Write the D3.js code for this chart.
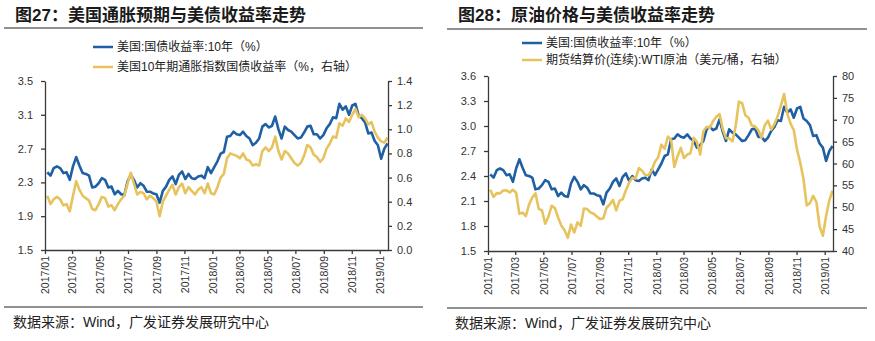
<!DOCTYPE html>
<html><head><meta charset="utf-8">
<script src="https://cdn.jsdelivr.net/npm/d3@7"></script>
<style>
body{margin:0;background:#fff;}
svg{display:block;}
text{font-family:"Liberation Sans","Noto Sans CJK SC",Arial,sans-serif;}
</style></head>
<body>
<svg id="c" width="875" height="341"></svg>
<script>
// ---- Data (weekly, Fridays from 2017-01-06 to 2019-01-18) ----
const startDate = "2017-01-06";
const endDate = "2019-01-19";
// US 10Y Treasury yield (%)
const ust10y = [
 2.42,2.38,2.47,2.49,2.47,2.41,2.42,2.33,2.49,2.60,2.50,2.41,2.40,2.38,2.24,2.25,2.29,2.35,2.33,2.24,2.25,2.16,2.20,2.16,2.15,2.31,
 2.39,2.33,2.24,2.29,2.26,2.19,2.19,2.17,2.16,2.06,2.20,2.25,2.33,2.37,2.28,2.39,2.43,2.34,2.40,2.35,2.34,2.37,2.38,2.35,2.48,2.41,
 2.48,2.55,2.64,2.66,2.84,2.85,2.90,2.87,2.86,2.90,2.85,2.82,2.74,2.77,2.82,2.96,2.99,2.95,2.97,3.08,2.93,2.82,2.96,2.92,2.90,2.86,
 2.82,2.83,2.89,2.96,2.97,2.87,2.87,2.82,2.86,2.94,2.99,3.07,3.06,3.23,3.16,3.20,3.10,3.21,3.23,3.09,3.06,3.01,2.88,2.89,2.79,2.74,
 2.58,2.70,2.76
];
// US 10Y TIPS yield (%, right axis of chart 27)
const tips10y = [
 0.45,0.38,0.42,0.44,0.42,0.37,0.38,0.32,0.45,0.57,0.50,0.45,0.43,0.41,0.34,0.33,0.38,0.44,0.43,0.36,0.37,0.33,0.38,0.42,0.45,0.55,
 0.64,0.55,0.46,0.48,0.47,0.42,0.45,0.43,0.40,0.28,0.40,0.45,0.50,0.54,0.46,0.52,0.55,0.47,0.52,0.49,0.46,0.50,0.52,0.47,0.55,0.47,
 0.46,0.52,0.60,0.63,0.76,0.80,0.79,0.78,0.76,0.80,0.75,0.74,0.70,0.71,0.70,0.82,0.85,0.82,0.85,0.94,0.82,0.75,0.82,0.80,0.76,0.72,
 0.70,0.72,0.78,0.87,0.85,0.79,0.77,0.73,0.76,0.84,0.88,0.94,0.93,1.05,1.03,1.09,1.06,1.12,1.17,1.10,1.12,1.09,1.04,1.06,0.98,0.93,
 0.90,0.89,0.93
];
// WTI futures settlement (USD/bbl, right axis of chart 28)
const wti = [
 53.99,52.37,53.22,53.17,53.83,53.86,53.40,53.99,53.33,48.49,48.78,47.97,50.60,52.24,53.18,49.62,49.33,46.22,47.84,50.33,49.80,47.66,45.83,44.74,43.01,46.04,
 44.23,46.54,45.77,49.71,49.58,48.82,48.51,47.87,47.29,47.48,49.89,50.66,51.67,49.29,51.45,51.84,53.90,55.64,56.74,56.55,58.95,58.36,57.36,57.30,58.47,60.42,
 61.44,64.30,63.37,66.14,65.45,59.20,61.68,63.55,61.25,62.04,62.34,65.88,64.94,62.06,67.39,68.38,68.10,69.72,70.70,71.28,67.88,65.81,65.74,65.06,68.58,74.15,
 73.80,71.01,70.46,68.69,68.49,67.63,65.91,68.72,69.80,67.75,68.99,70.78,73.25,75.90,71.34,69.12,67.59,63.14,60.19,56.46,50.42,50.93,52.61,51.20,45.59,43.50,
 47.96,51.59,53.80
];
const dates = d3.timeFriday.range(new Date(startDate+"T00:00:00"), new Date(endDate+"T00:00:00"));

// tick labels
const ticks27L = [1.5,1.9,2.3,2.7,3.1,3.5];
const ticks27R = [0.0,0.2,0.4,0.6,0.8,1.0,1.2,1.4];
const ticks28L = [1.5,1.8,2.1,2.4,2.7,3.0,3.3,3.6];
const ticks28R = [40,45,50,55,60,65,70,75,80];
const xTickDates = ["2017-01","2017-03","2017-05","2017-07","2017-09","2017-11","2018-01","2018-03","2018-05","2018-07","2018-09","2018-11","2019-01"];

const titles = ["图27：美国通胀预期与美债收益率走势","图28：原油价格与美债收益率走势"];
const legend27 = ["美国:国债收益率:10年（%）","美国10年期通胀指数国债收益率（%，右轴）"];
const legend28 = ["美国:国债收益率:10年（%）","期货结算价(连续):WTI原油（美元/桶，右轴）"];
const source = "数据来源：Wind，广发证券发展研究中心";

const BLUE = "#1f5fa3", GOLD = "#e7c35e", AX = "#3a3a3a";
const svg = d3.select("#c");

function panel(o){
  const g = svg.append("g");
  // title
  g.append("text").attr("x",o.titleX).attr("y",21).attr("font-size",17).attr("font-weight","bold")
    .attr("fill","#1a1a1a").attr("font-family","Noto Sans CJK SC, Liberation Sans").text(o.title);
  g.append("line").attr("x1",o.sepX0).attr("x2",o.sepX1).attr("y1",o.sepTop).attr("y2",o.sepTop).attr("stroke","#222").attr("stroke-width",1);
  g.append("line").attr("x1",o.sepX0).attr("x2",o.sepX1).attr("y1",o.sepBot).attr("y2",o.sepBot).attr("stroke","#222").attr("stroke-width",1);
  g.append("text").attr("x",o.srcX).attr("y",o.sepBot+20).attr("font-size",14).attr("fill","#222").text(source);

  const x = d3.scaleTime().domain([new Date("2017-01-01T00:00:00"), new Date(endDate+"T00:00:00")]).range([o.x0,o.x1]);
  const yL = d3.scaleLinear().domain(o.dL).range([o.yB,o.yT]);
  const yR = d3.scaleLinear().domain(o.dR).range([o.yB,o.yT]);

  // legend
  o.legend.forEach((t,i)=>{
    const ly = o.legY[i];
    g.append("line").attr("x1",o.legX).attr("x2",o.legX+20).attr("y1",ly).attr("y2",ly)
      .attr("stroke",i===0?BLUE:GOLD).attr("stroke-width",2.5);
    g.append("text").attr("x",o.legX+24).attr("y",ly).attr("dy","0.35em").attr("font-size",12).attr("fill","#222").text(t);
  });

  // lines
  const lineL = d3.line().x((d,i)=>x(dates[i])).y(d=>yL(d));
  const lineR = d3.line().x((d,i)=>x(dates[i])).y(d=>yR(d));
  g.append("path").datum(ust10y).attr("d",lineL).attr("fill","none").attr("stroke",BLUE).attr("stroke-width",2.6).attr("stroke-linejoin","round");
  g.append("path").datum(o.rdata).attr("d",lineR).attr("fill","none").attr("stroke",GOLD).attr("stroke-width",2.6).attr("stroke-linejoin","round");

  // axes
  const ax = g.append("g").attr("transform",`translate(0,${o.yB})`)
    .call(d3.axisBottom(x).tickValues(xTickDates.map(s=>new Date(s+"-01T00:00:00"))).tickFormat(d3.timeFormat("%Y/%m")).tickSize(4).tickSizeOuter(0));
  ax.selectAll("text").attr("transform","rotate(-90)").attr("x",-6).attr("y",0).attr("dy","0.35em")
    .style("text-anchor","end").attr("font-size",10.5).attr("fill","#333");
  const axL = g.append("g").attr("transform",`translate(${o.x0},0)`)
    .call(d3.axisLeft(yL).tickValues(o.tL).tickFormat(d3.format(o.fL)).tickSize(4).tickSizeOuter(0).tickPadding(8));
  axL.selectAll("text").attr("font-size",11).attr("fill","#333");
  const axR = g.append("g").attr("transform",`translate(${o.x1},0)`)
    .call(d3.axisRight(yR).tickValues(o.tR).tickFormat(d3.format(o.fR)).tickSize(4).tickSizeOuter(0).tickPadding(5));
  axR.selectAll("text").attr("font-size",11).attr("fill","#333");
  [ax,axL,axR].forEach(a=>{a.selectAll("path,line").attr("stroke",AX).attr("stroke-width",1.3); a.attr("font-family",null);});
}

panel({title:titles[0],titleX:15,sepX0:4,sepX1:423,sepTop:28,sepBot:307,srcX:13,
  x0:45,x1:388,yT:81,yB:250,dL:[1.5,3.5],dR:[0,1.4],tL:ticks27L,tR:ticks27R,fL:".1f",fR:".1f",
  legend:legend27,legX:93,legY:[47,67],rdata:tips10y});
panel({title:titles[1],titleX:458,sepX0:447,sepX1:867,sepTop:29,sepBot:308,srcX:455,
  x0:488,x1:833,yT:76,yB:251,dL:[1.5,3.6],dR:[40,80],tL:ticks28L,tR:ticks28R,fL:".1f",fR:"d",
  legend:legend28,legX:522,legY:[43,60],rdata:wti});
</script>
</body></html>
